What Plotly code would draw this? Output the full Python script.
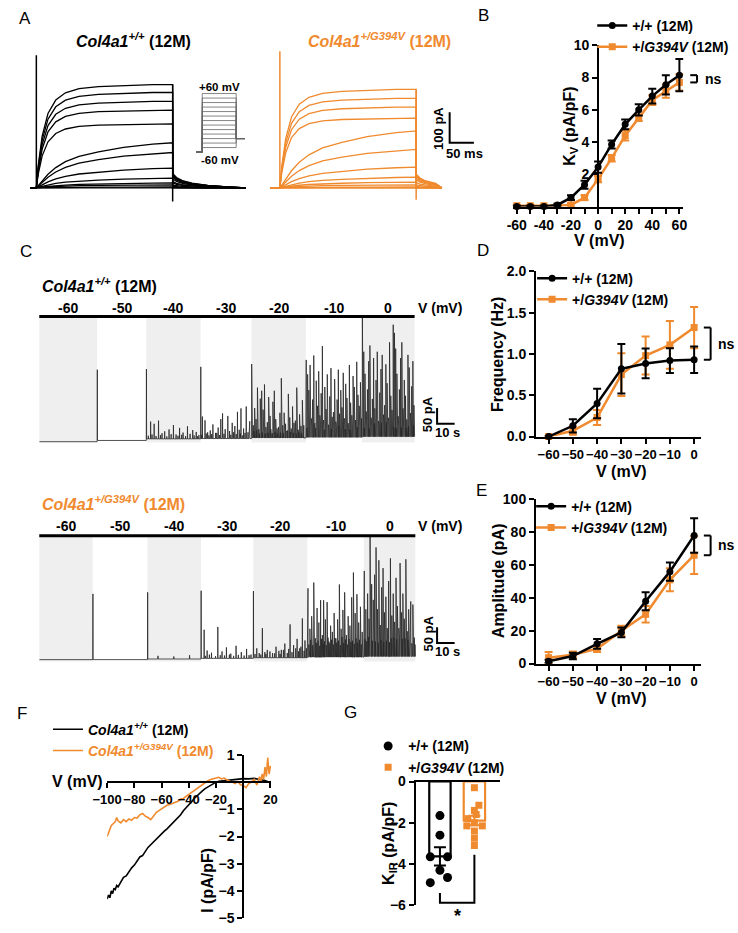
import numpy as np
import plotly.graph_objects as go

W, H = 738, 933
BLACK = '#000000'
ORANGE = '#F08A2E'
SHADE = '#EFEFEF'
FONT = 'Arial, Liberation Sans, sans-serif'

# ======================= DATA =======================
# ---- Panel A: Kv current families (pA vs ms) ----
A_STEP_MV = [-60, -50, -40, -30, -20, -10, 0, 10, 20, 30, 40, 50, 60]
A_WT_STEADY_PA = [0, 3, 10, 16, 32, 65, 116, 148, 210, 255, 284, 313, 339]
A_MUT_STEADY_PA = [0, 0, 3, 10, 19, 35, 68, 126, 187, 229, 265, 294, 323]
A_ACT_MS = [0, 4, 12, 24, 40, 60, 88, 128, 180, 240, 281]
A_ACT_FAST = [0, 0.22, 0.5, 0.72, 0.85, 0.92, 0.96, 0.98, 0.99, 1.0, 1.0]
A_ACT_SLOW = [0, 0.05, 0.15, 0.3, 0.45, 0.58, 0.7, 0.8, 0.9, 0.97, 1.0]
A_TAIL_MS = [0, 8, 20, 40, 72, 112, 150]
A_TAIL_FRAC = [0.14, 0.1, 0.07, 0.045, 0.025, 0.01, 0.0]
A_FAST_MIN_PA = 200
A_STEP_END_MS = 281
A_WT_END_MS = 432
A_MUT_END_MS = 334
A_WT_ARTIFACT_PA = [435, -45]
A_MUT_ARTIFACT_PA = [448, -39]
A_PROTO_HOLD_MV = -70
A_PROTO_TAIL_MV = -40
A_PROTO_T = [-6, 0, 35, 44]
A_SCALE_PA = 100
A_SCALE_MS = 50

# ---- Panel B: Kv density ----
B_V = [-60, -50, -40, -30, -20, -10, 0, 10, 20, 30, 40, 50, 60]
B_WT = [0.0, 0.0, 0.0, 0.1, 0.55, 1.35, 2.45, 3.85, 5.1, 6.0, 6.85, 7.55, 8.15]
B_WT_SEM = [0.05, 0.05, 0.05, 0.08, 0.15, 0.25, 0.35, 0.25, 0.3, 0.35, 0.45, 0.6, 1.0]
B_MUT = [0.05, 0.05, 0.05, 0.05, 0.1, 0.55, 1.7, 3.0, 4.4, 5.5, 6.6, 7.15, 7.7]
B_MUT_SEM = [0.05, 0.05, 0.05, 0.05, 0.1, 0.15, 0.2, 0.2, 0.3, 0.2, 0.3, 0.4, 0.5]
B_XTICKS = [-60, -50, -40, -30, -20, -10, 0, 10, 20, 30, 40, 50, 60]
B_XTICKTEXT = ['-60', '', '-40', '', '-20', '', '0', '', '20', '', '40', '', '60']
B_YTICKS = [2, 4, 6, 8, 10]

# ---- Panel C: STOC recordings ----
C_VOLT_LABELS = ['-60', '-50', '-40', '-30', '-20', '-10', '0']
C_WT_BOUNDS_S = [0, 33, 61, 92, 121, 152, 184, 214]
C_MUT_BOUNDS_S = [0, 30.5, 61.7, 92.2, 122, 152.8, 185, 214.4]
C_WT_BASE_PA = [-4, 0, 5, 6, 8, 10, 12]
C_MUT_BASE_PA = [0, 0, 2, 4, 6, 8, 10]
# large events per step: (offset in s, amplitude in pA)
C_WT_EVENTS = [
    [],
    [(0.1, 225)],
    [(0.1, 222), (2.5, 55), (4.5, 48), (7.0, 58), (9.0, 18), (10.5, 24), (13.0, 30), (15.5, 44),
     (17.0, 14), (19.0, 35), (21.0, 20), (23.5, 40), (25.0, 16), (26.5, 28), (28.5, 22), (30.0, 12)],
    [(0.1, 228), (1.0, 70), (2.5, 58), (4.0, 20), (5.5, 26), (7.0, 45), (8.5, 18), (10.0, 35),
     (11.5, 62), (12.5, 80), (14.0, 30), (15.5, 72), (16.5, 24), (18.0, 50), (19.5, 40), (21.0, 85),
     (22.0, 28), (23.0, 96), (24.5, 32), (26.0, 102), (27.0, 20), (28.0, 55)],
    [(0.1, 235), (1.0, 40), (1.8, 95), (2.6, 60), (3.4, 160), (4.2, 28), (5.0, 125), (5.8, 150),
     (6.6, 90), (7.4, 170), (8.2, 35), (9.0, 50), (9.8, 130), (10.6, 70), (11.4, 25), (12.2, 115),
     (13.0, 150), (13.8, 60), (14.6, 30), (15.4, 35), (16.2, 80), (17.0, 190), (17.8, 40), (18.6, 80),
     (19.4, 45), (20.2, 22), (21.0, 140), (21.8, 65), (22.6, 30), (23.4, 100), (24.2, 48), (25.0, 55),
     (25.8, 160), (26.6, 26), (27.4, 75), (28.2, 38), (29.0, 120), (29.8, 40)],
    [(0.2, 246), (1.0, 200), (1.7, 150), (2.4, 230), (3.1, 60), (3.8, 120), (4.5, 260), (5.2, 45),
     (5.9, 180), (6.6, 100), (7.3, 210), (8.0, 70), (8.7, 140), (9.4, 290), (10.1, 55), (10.8, 160),
     (11.5, 90), (12.2, 200), (12.9, 40), (13.6, 130), (14.3, 220), (15.0, 65), (15.7, 80), (16.4, 185),
     (17.1, 50), (17.8, 120), (18.5, 215), (19.2, 75), (19.9, 150), (20.6, 95), (21.3, 205), (22.0, 60),
     (22.7, 170), (23.4, 125), (24.1, 45), (24.8, 230), (25.5, 110), (26.2, 70), (26.9, 195), (27.6, 160),
     (28.3, 55), (29.0, 240), (29.7, 135), (30.4, 100), (31.1, 175), (31.7, 60)],
    [(0.2, 384), (1.0, 270), (1.7, 200), (2.4, 80), (3.1, 150), (3.8, 240), (4.5, 290), (5.2, 60),
     (5.9, 120), (6.6, 250), (7.3, 90), (8.0, 180), (8.7, 270), (9.4, 50), (10.1, 140), (10.8, 215),
     (11.5, 260), (12.2, 70), (12.9, 100), (13.6, 230), (14.3, 170), (15.0, 60), (15.7, 300), (16.4, 130),
     (17.1, 85), (17.8, 356), (18.5, 330), (19.2, 280), (19.9, 200), (20.6, 65), (21.3, 150), (22.0, 250),
     (22.7, 300), (23.4, 90), (24.1, 180), (24.8, 130), (25.5, 55), (26.2, 260), (26.9, 220), (27.6, 75),
     (28.3, 160), (29.0, 240), (29.6, 100)],
]
# small events (dense band near the baseline)
C_WT_SMALL = [
    [], [],
    [(1.2, 10), (3.3, 14), (5.6, 9), (8.1, 12), (11.7, 8), (14.2, 15), (18.1, 10), (20.2, 13), (22.4, 9),
     (27.3, 11), (29.2, 8)],
    [(0.6, 12), (3.2, 16), (4.7, 10), (6.3, 14), (9.2, 18), (10.8, 11), (13.3, 15), (17.2, 12), (18.8, 20),
     (20.3, 14), (22.6, 16), (24.0, 10), (25.3, 18), (27.6, 12)],
    [(0.5, 18), (1.4, 22), (2.2, 15), (3.0, 25), (3.8, 19), (4.6, 14), (5.4, 26), (6.2, 17), (7.0, 21),
     (7.8, 13), (8.6, 24), (9.4, 16), (10.2, 20), (11.0, 28), (11.8, 15), (12.6, 22), (13.4, 18),
     (14.2, 25), (15.0, 14), (15.8, 20), (16.6, 17), (17.4, 26), (18.2, 15), (19.0, 22), (19.8, 18),
     (20.6, 24), (21.4, 13), (22.2, 19), (23.0, 27), (23.8, 16), (24.6, 21), (25.4, 14), (26.2, 23),
     (27.0, 18), (27.8, 25), (28.6, 15), (29.4, 20)],
    [(0.6, 30), (1.35, 24), (2.05, 38), (2.75, 28), (3.45, 35), (4.15, 22), (4.85, 40), (5.55, 30),
     (6.25, 26), (6.95, 36), (7.65, 25), (8.35, 42), (9.05, 28), (9.75, 33), (10.45, 24), (11.15, 38),
     (11.85, 29), (12.55, 35), (13.25, 22), (13.95, 40), (14.65, 27), (15.35, 34), (16.05, 25),
     (16.75, 39), (17.45, 30), (18.15, 26), (18.85, 37), (19.55, 23), (20.25, 34), (20.95, 29),
     (21.65, 41), (22.35, 26), (23.05, 33), (23.75, 28), (24.45, 38), (25.15, 24), (25.85, 35),
     (26.55, 30), (27.25, 27), (27.95, 39), (28.65, 25), (29.35, 32), (30.05, 28), (30.75, 36),
     (31.45, 24)],
    [(0.6, 35), (1.35, 28), (2.05, 44), (2.75, 32), (3.45, 40), (4.15, 26), (4.85, 46), (5.55, 33),
     (6.25, 29), (6.95, 42), (7.65, 30), (8.35, 48), (9.05, 31), (9.75, 38), (10.45, 27), (11.15, 44),
     (11.85, 33), (12.55, 40), (13.25, 26), (13.95, 45), (14.65, 31), (15.35, 39), (16.05, 28),
     (16.75, 43), (17.45, 34), (18.15, 30), (18.85, 42), (19.55, 27), (20.25, 38), (20.95, 33),
     (21.65, 46), (22.35, 29), (23.05, 37), (23.75, 31), (24.45, 43), (25.15, 28), (25.85, 39),
     (26.55, 33), (27.25, 30), (27.95, 41), (28.65, 27), (29.35, 35)],
]
C_MUT_EVENTS = [
    [],
    [(0.1, 209)],
    [(0.1, 212), (6.0, 10), (15.0, 8), (24.0, 12)],
    [(0.1, 215), (1.8, 91), (3.5, 25), (6.0, 18), (9.6, 100), (12.0, 22), (14.5, 35), (17.0, 15),
     (20.0, 40), (23.0, 20), (26.0, 30), (28.5, 12)],
    [(0.1, 212), (2.0, 30), (5.2, 94), (8.0, 25), (11.0, 15), (13.0, 35), (16.0, 25), (18.0, 45),
     (21.0, 106), (23.0, 40), (25.0, 60), (26.5, 30), (28.0, 125), (29.5, 55), (30.3, 30)],
    [(0.4, 219), (1.5, 90), (2.5, 130), (3.7, 237), (4.6, 60), (5.6, 156), (6.6, 110), (7.6, 181),
     (8.6, 70), (9.3, 181), (10.3, 120), (11.3, 175), (12.3, 50), (13.3, 100), (14.3, 80), (15.3, 140),
     (16.3, 60), (17.3, 120), (18.3, 231), (19.3, 90), (20.3, 150), (21.3, 206), (22.3, 70), (23.3, 130),
     (24.3, 100), (25.3, 190), (26.3, 269), (27.3, 140), (28.3, 200), (29.3, 110), (30.3, 160), (31.3, 80)],
    [(0.3, 272), (1.2, 150), (2.2, 200), (3.0, 120), (3.6, 390), (4.5, 230), (5.4, 180), (6.2, 260),
     (7.0, 347), (7.8, 150), (8.6, 306), (9.4, 100), (10.2, 220), (11.0, 281), (11.8, 140), (12.6, 190),
     (13.4, 90), (14.2, 240), (15.2, 312), (16.0, 130), (16.8, 200), (17.6, 110), (18.4, 250), (19.2, 160),
     (20.0, 90), (20.7, 297), (21.5, 140), (22.3, 200), (23.1, 120), (24.0, 309), (24.8, 80), (25.6, 150),
     (26.8, 175), (28.0, 165), (28.8, 60)],
]
C_MUT_SMALL = [
    [], [], [],
    [(2.5, 8), (4.8, 12), (8.3, 7), (11.0, 10), (13.4, 9), (16.2, 12), (18.6, 8), (21.3, 11), (24.6, 9),
     (27.4, 10)],
    [(1.0, 12), (3.4, 15), (4.3, 10), (6.6, 18), (7.2, 12), (9.5, 20), (12.2, 14), (14.6, 22), (15.3, 12),
     (17.2, 25), (19.4, 15), (20.2, 28), (22.1, 18), (24.2, 30), (25.8, 20), (27.2, 35), (29.0, 22)],
    [(0.9, 40), (1.95, 55), (3.1, 38), (4.1, 60), (5.1, 45), (6.1, 52), (7.1, 36), (8.1, 58), (9.0, 42),
     (9.8, 50), (10.8, 38), (11.8, 62), (12.8, 44), (13.8, 55), (14.8, 40), (15.8, 60), (16.8, 46),
     (17.8, 52), (18.8, 38), (19.8, 64), (20.8, 45), (21.8, 56), (22.8, 40), (23.8, 58), (24.8, 48),
     (25.8, 52), (26.8, 42), (27.8, 60), (28.8, 46), (29.8, 55), (30.8, 40), (31.6, 50)],
    [(0.75, 55), (1.7, 48), (2.6, 62), (3.3, 45), (4.0, 58), (4.9, 50), (5.8, 66), (6.6, 48), (7.4, 60),
     (8.2, 44), (9.0, 58), (9.8, 52), (10.6, 64), (11.4, 46), (12.2, 56), (13.0, 50), (13.8, 62),
     (14.7, 45), (15.6, 58), (16.4, 48), (17.2, 60), (18.0, 44), (18.8, 55), (19.6, 50), (20.35, 62),
     (21.1, 46), (21.9, 56), (22.7, 48), (23.5, 58), (24.4, 44), (25.2, 52), (26.0, 46), (26.4, 55),
     (27.4, 42), (28.4, 50), (29.2, 38)],
]
C_SCALE_PA = 50
C_SCALE_S = 10

# ---- Panel D: STOC frequency ----
DE_V = [-60, -50, -40, -30, -20, -10, 0]
D_WT = [0.0, 0.13, 0.40, 0.82, 0.885, 0.92, 0.93]
D_WT_SEM = [0.0, 0.08, 0.18, 0.30, 0.18, 0.15, 0.16]
D_MUT = [0.0, 0.07, 0.23, 0.75, 0.98, 1.11, 1.32]
D_MUT_SEM = [0.0, 0.05, 0.09, 0.26, 0.23, 0.29, 0.25]
D_YTICKS = [0, 0.5, 1.0, 1.5, 2.0]
D_YTICKTEXT = ['0.0', '0.5', '1.0', '1.5', '2.0']

# ---- Panel E: STOC amplitude ----
E_WT = [1.4, 4.6, 12, 19, 38, 56, 78]
E_WT_SEM = [1, 2, 3, 3, 5.5, 5.5, 10.5]
E_MUT = [3.6, 5.4, 9, 20, 30, 51, 66]
E_MUT_SEM = [3.5, 2, 2, 3, 5, 7, 11.5]
E_YTICKS = [0, 20, 40, 60, 80, 100]

# ---- Panel F: Kir I-V ramps ----
F_WT_V = [-100, -99, -98, -97, -96, -95, -94, -93, -92, -90, -88, -86, -84, -82, -80, -78, -76, -74,
          -72, -70, -68, -66, -64, -62, -60, -58, -56, -54, -52, -50, -48, -46, -44, -42, -40, -38,
          -36, -34, -32, -30, -28, -26, -24, -22, -20, -18, -15, -12, -8, -4, 0, 4, 8, 12, 16, 19, 20]
F_WT_I = [-4.3, -4.15, -4.25, -4.0, -4.1, -3.9, -3.95, -3.8, -3.85, -3.65, -3.5, -3.45, -3.3, -3.15,
          -3.05, -2.9, -2.75, -2.7, -2.55, -2.4, -2.3, -2.2, -2.1, -2.0, -1.88, -1.8, -1.72, -1.62,
          -1.5, -1.4, -1.3, -1.2, -1.05, -0.95, -0.82, -0.72, -0.6, -0.5, -0.4, -0.32, -0.24, -0.18,
          -0.1, -0.05, 0.0, 0.03, 0.05, 0.06, 0.08, 0.1, 0.13, 0.12, 0.14, 0.1, 0.06, 0.0, 0.02]
F_MUT_V = [-100, -99, -98, -97, -96, -95, -94, -93, -92, -90, -88, -86, -84, -82, -80, -78, -76, -74,
           -72, -70, -68, -66, -64, -62, -60, -58, -56, -54, -52, -50, -48, -46, -44, -42, -40, -38,
           -36, -34, -32, -30, -28, -26, -24, -22, -20, -18, -16, -14, -12, -10, -8, -6, -4, -2, 0,
           2, 4, 6, 8, 10, 12, 13, 14, 15, 16, 17, 18, 19, 20]
F_MUT_I = [-2.0, -1.85, -1.75, -1.6, -1.55, -1.5, -1.45, -1.3, -1.42, -1.5, -1.38, -1.45, -1.35, -1.4,
           -1.3, -1.32, -1.2, -1.15, -1.25, -1.3, -1.38, -1.25, -1.12, -1.05, -0.98, -0.92, -0.85,
           -0.82, -0.78, -0.72, -0.7, -0.62, -0.6, -0.52, -0.45, -0.35, -0.28, -0.22, -0.15, -0.08,
           0.0, 0.05, 0.1, 0.12, 0.15, 0.18, 0.12, 0.15, 0.08, 0.05, 0.0, -0.05, 0.02, -0.1, -0.12,
           -0.2, -0.05, 0.0, 0.1, -0.1, 0.2, 0.05, 0.3, 0.1, 0.55, 0.2, 0.9, 0.3, 0.6]
F_XTICKS = [-100, -80, -60, -40, -20, 20]
F_YTICKS = [1, -1, -2, -3, -4, -5]

# ---- Panel G: Kir density ----
G_WT = [-1.65, -2.6, -3.65, -3.65, -4.3, -4.65, -4.9]
G_MUT = [-0.3, -1.15, -1.4, -1.6, -1.8, -2.0, -2.15, -2.15, -2.4, -2.75, -3.1]
G_YTICKS = [0, -2, -4, -6]

# ======================= STYLE / GEOMETRY =======================
G_WT_DX = [0, 0, -0.28, 0.22, 0, 0.22, -0.28]
G_MUT_DX = [0, 0.13, 0, 0.05, -0.19, 0, -0.22, 0.23, 0, 0, 0]


def xd(a, b):
    return [a / W, b / W]


def yd(top, bot):
    return [1 - bot / H, 1 - top / H]


def PX(x):
    return x / W


def PY(y):
    return 1 - y / H


def mk(p0, p1, r0, r1):
    return lambda v: p0 + (v - r0) * (p1 - p0) / (r1 - r0)


GEO = {
    'AL': ((15, 242), (40, 200), (-14, 440), (-54.84, 461.29)),
    'AP': ((183, 240), (80, 152), (-10, 47), (-81.8, 75.4)),
    'AR': ((263, 480), (40, 200), (-20, 414), (-54.84, 461.29)),
    'B': ((513, 689), (38, 202), (-63, 63), (0, 10)),
    'CT': ((25, 460), (314, 446), (0, 240.6), (-18.75, 393.75)),
    'CB': ((25, 460), (537, 669), (0, 240.6), (-18.75, 393.75)),
    'D': ((537, 707), (268, 436), (-65.2, 2.8), (0, 2)),
    'E': ((537, 707), (500, 667), (-65.2, 2.8), (0, 100)),
    'F': ((95, 264), (760, 926), (-100, 20.5), (-5, 1)),
    'G': ((413, 500), (787, 913), (0.296, 2.746), (-6, 0)),
}
AXN = {'AL': '', 'AP': '2', 'AR': '3', 'B': '4', 'CT': '5', 'CB': '6', 'D': '7', 'E': '8', 'F': '9', 'G': '10'}


def mapx(k):
    (x0, x1), _, (r0, r1), _ = GEO[k]
    return mk(x0, x1, r0, r1)


def mapy(k):
    _, (y0, y1), _, (r0, r1) = GEO[k]
    return mk(y1, y0, r0, r1)


def axref(k):
    return 'x' + AXN[k], 'y' + AXN[k]


TICKFONT = dict(family=FONT, size=14, color='black', weight='bold')
TICKFONT_SM = dict(family=FONT, size=13, color='black', weight='bold')
AXSTYLE = dict(showline=True, linecolor='black', linewidth=2, ticks='outside', ticklen=5, tickwidth=2,
               tickcolor='black', showgrid=False, zeroline=False, fixedrange=True, tickangle=0)

layout_axes = {}
for k, ((x0, x1), (y0, y1), xr, yr) in GEO.items():
    n = AXN[k]
    layout_axes['xaxis' + n] = dict(domain=xd(x0, x1), range=list(xr), anchor='y' + n, visible=False,
                                    showgrid=False, zeroline=False, fixedrange=True)
    layout_axes['yaxis' + n] = dict(domain=yd(y0, y1), range=list(yr), anchor='x' + n, visible=False,
                                    showgrid=False, zeroline=False, fixedrange=True)

layout_axes['xaxis4'].update(visible=True, tickvals=B_XTICKS, ticktext=B_XTICKTEXT, tickfont=TICKFONT,
                             **AXSTYLE)
layout_axes['yaxis4'].update(visible=True, anchor='free', position=PX(mapx('B')(0)), tickvals=B_YTICKS,
                             tickfont=TICKFONT, **AXSTYLE)
for k in ('D', 'E'):
    n = AXN[k]
    layout_axes['xaxis' + n].update(visible=True, tickvals=DE_V, tickfont=TICKFONT_SM, **AXSTYLE)
layout_axes['yaxis7'].update(visible=True, tickvals=D_YTICKS, ticktext=D_YTICKTEXT, tickfont=TICKFONT,
                             **AXSTYLE)
layout_axes['yaxis8'].update(visible=True, tickvals=E_YTICKS, tickfont=TICKFONT, **AXSTYLE)
layout_axes['xaxis9'].update(visible=True, anchor='free', position=PY(mapy('F')(0)), tickvals=F_XTICKS,
                             tickfont=TICKFONT_SM, **AXSTYLE)
layout_axes['yaxis9'].update(visible=True, anchor='free', position=PX(mapx('F')(0)), tickvals=F_YTICKS,
                             tickfont=TICKFONT, **AXSTYLE)
layout_axes['xaxis10'].update(visible=True, side='top', showline=True, linecolor='black', linewidth=2,
                              showticklabels=False, ticks='')
layout_axes['yaxis10'].update(visible=True, tickvals=G_YTICKS, tickfont=TICKFONT, **AXSTYLE)

fig = go.Figure()


def add(trace, k):
    xa, ya = axref(k)
    trace.update(xaxis=xa, yaxis=ya)
    fig.add_trace(trace)


# ---------------- Panel A ----------------
def kv_sweep(amp, pre_ms, end_ms):
    shape = A_ACT_FAST if amp >= A_FAST_MIN_PA else A_ACT_SLOW
    t = [pre_ms, 0] + list(A_ACT_MS)
    i = [0, 0] + [amp * f for f in shape]
    for dt, fr in zip(A_TAIL_MS, A_TAIL_FRAC):
        if A_STEP_END_MS + dt < end_ms:
            t.append(A_STEP_END_MS + dt)
            i.append(amp * fr)
    t.append(end_ms)
    i.append(0)
    return t, i


for amps, key, color, pre, end, art in (
        (A_WT_STEADY_PA, 'AL', BLACK, -12, A_WT_END_MS, A_WT_ARTIFACT_PA),
        (A_MUT_STEADY_PA, 'AR', ORANGE, -20, A_MUT_END_MS, A_MUT_ARTIFACT_PA)):
    for amp in amps:
        t, i = kv_sweep(amp, pre, end)
        add(go.Scatter(x=t, y=i, mode='lines', line=dict(color=color, width=1.3), showlegend=False,
                       hoverinfo='skip'), key)
    add(go.Scatter(x=[0, 0, None, A_STEP_END_MS, A_STEP_END_MS],
                   y=[0, art[0], None, amps[-1], art[1]], mode='lines',
                   line=dict(color=color, width=1.5), showlegend=False, hoverinfo='skip'), key)

for v in A_STEP_MV:
    T = A_PROTO_T
    add(go.Scatter(x=[T[0], T[1], T[1], T[2], T[2], T[3]],
                   y=[A_PROTO_HOLD_MV, A_PROTO_HOLD_MV, v, v, A_PROTO_TAIL_MV, A_PROTO_TAIL_MV],
                   mode='lines', line=dict(color='#666666', width=0.8), showlegend=False,
                   hoverinfo='skip'), 'AP')

A_SB_T0, A_SB_I0 = 350, 148.4
add(go.Scatter(x=[A_SB_T0, A_SB_T0, A_SB_T0 + A_SCALE_MS],
               y=[A_SB_I0 + A_SCALE_PA, A_SB_I0, A_SB_I0], mode='lines',
               line=dict(color=BLACK, width=2), showlegend=False, hoverinfo='skip'), 'AR')


# ---------------- Panel B ----------------
def err(arr, color, w=4):
    return dict(type='data', array=arr, color=color, thickness=2, width=w, visible=True)


add(go.Scatter(x=B_V, y=B_MUT, mode='lines+markers', name='+/<i>G394V</i> (12M)',
               line=dict(color=ORANGE, width=2.5), marker=dict(symbol='square', size=7, color=ORANGE),
               error_y=err(B_MUT_SEM, ORANGE), legend='legend', legendrank=2, cliponaxis=False), 'B')
add(go.Scatter(x=B_V, y=B_WT, mode='lines+markers', name='+/+ (12M)',
               line=dict(color=BLACK, width=2.5), marker=dict(symbol='circle', size=7, color=BLACK),
               error_y=err(B_WT_SEM, BLACK), legend='legend', legendrank=1, cliponaxis=False), 'B')


# ---------------- Panel C ----------------
def spike_xy(bounds, bases, events, small):
    xs, ys = [], []
    for k in range(len(bounds) - 1):
        t0, t1, b = bounds[k], bounds[k + 1], bases[k]
        xs.append(t0)
        ys.append(b)
        for off, amp in sorted(events[k] + small[k]):
            t = t0 + off
            xs += [t - 0.1, t, t + 0.1]
            ys += [b, b + amp, b]
        xs.append(t1)
        ys.append(b)
    return xs, ys


shapes = []
annotations = []


def text(x, y, s, size=14, color='black', bold=True, angle=0, xanchor='center', yanchor='middle'):
    annotations.append(dict(x=PX(x), y=PY(y), xref='paper', yref='paper', text=s, showarrow=False,
                            font=dict(family=FONT, size=size, color=color,
                                      weight='bold' if bold else 'normal'),
                            textangle=angle, xanchor=xanchor, yanchor=yanchor))


def pline(x0, y0, x1, y1, color='black', width=2):
    shapes.append(dict(type='line', xref='paper', yref='paper', x0=PX(x0), y0=PY(y0), x1=PX(x1),
                       y1=PY(y1), line=dict(color=color, width=width)))


for key, bounds, bases, events, small, title, tcolor, label_y, bar_y, shade_bot in (
        ('CT', C_WT_BOUNDS_S, C_WT_BASE_PA, C_WT_EVENTS, C_WT_SMALL,
         '<i>Col4a1</i><sup><i>+/+</i></sup> (12M)', BLACK, 305, 314, 442),
        ('CB', C_MUT_BOUNDS_S, C_MUT_BASE_PA, C_MUT_EVENTS, C_MUT_SMALL,
         '<i>Col4a1</i><sup><i>+/G394V</i></sup> (12M)', ORANGE, 527, 537, 665)):
    fx = mapx(key)
    fy = mapy(key)
    for k in range(0, len(bounds) - 1, 2):
        shapes.append(dict(type='rect', xref='paper', yref='paper', x0=PX(fx(bounds[k])),
                           x1=PX(fx(bounds[k + 1])), y0=PY(shade_bot), y1=PY(bar_y + 1),
                           fillcolor=SHADE, line=dict(width=0), layer='below'))
    pline(fx(bounds[0]), bar_y, fx(bounds[-1]), bar_y, width=3)
    for k, lab in enumerate(C_VOLT_LABELS):
        text(fx((bounds[k] + bounds[k + 1]) / 2), label_y, lab, size=14)
    text(413, label_y, 'V (mV)', size=14, xanchor='left')
    text(26, label_y - 23, title, size=16, color=tcolor, xanchor='left')
    xs, ys = spike_xy(bounds, bases, events, small)
    add(go.Scatter(x=xs, y=ys, mode='lines', line=dict(color='#262626', width=0.8), showlegend=False,
                   hoverinfo='skip'), key)
    sb_t0, sb_i0 = 226.8, 53
    add(go.Scatter(x=[sb_t0, sb_t0, sb_t0 + C_SCALE_S], y=[sb_i0 + C_SCALE_PA, sb_i0, sb_i0],
                   mode='lines', line=dict(color=BLACK, width=2), showlegend=False, hoverinfo='skip'), key)
    text(fx(sb_t0) - 9, fy(sb_i0 + C_SCALE_PA / 2) - 2, '50 pA', size=13, angle=-90)
    text(fx(sb_t0 + C_SCALE_S / 2) + 2, fy(sb_i0) + 9, '10 s', size=13)

# ---------------- Panel D & E ----------------
for key, wt, wts, mu, mus, lg in (('D', D_WT, D_WT_SEM, D_MUT, D_MUT_SEM, 'legend2'),
                                  ('E', E_WT, E_WT_SEM, E_MUT, E_MUT_SEM, 'legend3')):
    add(go.Scatter(x=DE_V, y=mu, mode='lines+markers', name='+/<i>G394V</i> (12M)',
                   line=dict(color=ORANGE, width=2.5), marker=dict(symbol='square', size=7, color=ORANGE),
                   error_y=err(mus, ORANGE), legend=lg, legendrank=2, cliponaxis=False), key)
    add(go.Scatter(x=DE_V, y=wt, mode='lines+markers', name='+/+ (12M)',
                   line=dict(color=BLACK, width=2.5), marker=dict(symbol='circle', size=7, color=BLACK),
                   error_y=err(wts, BLACK), legend=lg, legendrank=1, cliponaxis=False), key)

# ---------------- Panel F ----------------
add(go.Scatter(x=F_WT_V, y=F_WT_I, mode='lines', line=dict(color=BLACK, width=1.6),
               name='<i>Col4a1</i><sup><i>+/+</i></sup> (12M)', legend='legend4', legendrank=1), 'F')
add(go.Scatter(x=F_MUT_V, y=F_MUT_I, mode='lines', line=dict(color=ORANGE, width=1.6),
               name='<span style="color:%s"><i>Col4a1</i><sup><i>+/G394V</i></sup> (12M)</span>' % ORANGE,
               legend='legend4', legendrank=2), 'F')

# ---------------- Panel G ----------------
G_X_WT, G_X_MUT = 1, 2
for pts, xc, color in ((G_WT, G_X_WT, BLACK), (G_MUT, G_X_MUT, ORANGE)):
    arr = np.array(pts)
    m = arr.mean()
    s = arr.std(ddof=1) / np.sqrt(len(arr))
    add(go.Bar(x=[xc], y=[m], width=0.62, marker=dict(color='white', line=dict(color=color, width=2.2)),
               error_y=dict(type='data', array=[s], color=color, thickness=2, width=6),
               showlegend=False, hoverinfo='skip'), 'G')
add(go.Scatter(x=[G_X_WT + d for d in G_WT_DX], y=G_WT, mode='markers', name='+/+ (12M)',
               marker=dict(symbol='circle', size=9, color=BLACK), legend='legend5', legendrank=1,
               cliponaxis=False), 'G')
add(go.Scatter(x=[G_X_MUT + d for d in G_MUT_DX], y=G_MUT, mode='markers', name='+/<i>G394V</i> (12M)',
               marker=dict(symbol='square', size=7, color=ORANGE), legend='legend5', legendrank=2,
               cliponaxis=False), 'G')
gx, gy = mapx('G'), mapy('G')
shapes.append(dict(type='path', xref='paper', yref='paper', line=dict(color='black', width=2),
                   path='M %f %f L %f %f L %f %f L %f %f' % (
                       PX(gx(G_X_WT)), PY(gy(-5.4)), PX(gx(G_X_WT)), PY(gy(-5.88)),
                       PX(gx(G_X_MUT)), PY(gy(-5.88)), PX(gx(G_X_MUT)), PY(gy(-3.55)))))
text(gx(1.5), 924, '*', size=18)


# ---------------- ns brackets ----------------
def ns_bracket(key, v_top, v_bot, x_px):
    fy = mapy(key)
    y0, y1 = fy(v_top), fy(v_bot)
    pline(x_px - 7, y0, x_px, y0)
    pline(x_px, y0, x_px, y1)
    pline(x_px - 7, y1, x_px, y1)
    text(x_px + 6, (y0 + y1) / 2, 'ns', size=14, xanchor='left')


ns_bracket('B', B_WT[-1], B_MUT[-1], 703)
ns_bracket('D', D_MUT[-1], D_WT[-1], 717)
ns_bracket('E', E_WT[-1], E_MUT[-1], 717)

# ---------------- titles & axis labels ----------------
text(122, 33, '<i>Col4a1</i><sup><i>+/+</i></sup> (12M)', size=16)
text(376, 33, '<i>Col4a1</i><sup><i>+/G394V</i></sup> (12M)', size=16, color=ORANGE)
text(211, 80, '+60 mV', size=11.5)
text(211, 155, '-60 mV', size=11.5)
text(437, 122, '100 pA', size=13, angle=-90)
text(463, 148, '50 ms', size=13)

text(573, 120, 'K<sub>V</sub> (pA/pF)', size=16, angle=-90)
text(602, 237, 'V (mV)', size=16)
text(498, 352, 'Frequency (Hz)', size=16, angle=-90)
text(625, 472, 'V (mV)', size=16)
text(498, 583, 'Amplitude (pA)', size=16, angle=-90)
text(625, 703, 'V (mV)', size=16)
text(64, 787, 'V (mV)', size=16)
text(199, 888, 'I (pA/pF)', size=16, angle=-90)
text(386, 850, 'K<sub>IR</sub> (pA/pF)', size=16, angle=-90)

for lab, x, y in (('A', 10, 11), ('B', 483, 8), ('C', 11, 248), ('D', 482, 247), ('E', 481, 491),
                  ('F', 7, 718), ('G', 346, 717)):
    text(x, y, lab, size=17, bold=False)

LEG = dict(bgcolor='rgba(0,0,0,0)', font=dict(family=FONT, size=14, color='black', weight='bold'),
           xanchor='left', yanchor='top', itemwidth=30, tracegroupgap=0, itemclick=False,
           itemdoubleclick=False)

fig.update_layout(
    width=W, height=H, margin=dict(l=0, r=0, t=0, b=0), autosize=False,
    paper_bgcolor='white', plot_bgcolor='rgba(0,0,0,0)', barmode='overlay',
    font=dict(family=FONT, size=14, color='black'),
    shapes=shapes, annotations=annotations,
    legend=dict(x=PX(595), y=PY(2), **LEG),
    legend2=dict(x=PX(533), y=PY(259), **LEG),
    legend3=dict(x=PX(532), y=PY(491), **LEG),
    legend4=dict(x=PX(34), y=PY(718), **LEG),
    legend5=dict(x=PX(364), y=PY(735), **LEG),
    **layout_axes,
)

fig.write_html("out.html", config={'displayModeBar': False},
               post_script="document.body.style.margin='0px';")
